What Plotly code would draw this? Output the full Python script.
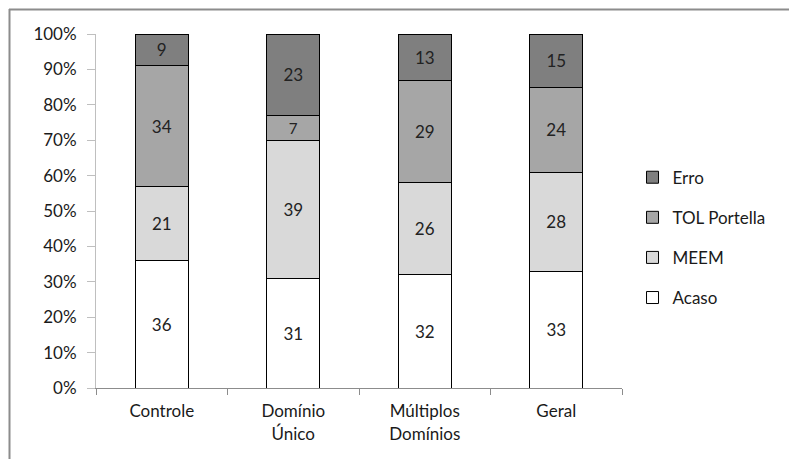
import plotly.graph_objects as go

categories = ["Controle", "Domínio<br>Único", "Múltiplos<br>Domínios", "Geral"]
series_names = ["Acaso", "MEEM", "TOL Portella", "Erro"]
acaso = [36, 31, 32, 33]
meem = [21, 39, 26, 28]
tol = [34, 7, 29, 24]
erro = [9, 23, 13, 15]
colors = ["#ffffff", "#d9d9d9", "#a6a6a6", "#7f7f7f"]
legend_ranks = [4, 3, 2, 1]

FONT = "Lato"
fig = go.Figure()
for name, vals, col, rk in zip(series_names, [acaso, meem, tol, erro], colors, legend_ranks):
    fig.add_trace(go.Bar(
        x=categories, y=vals, name=name, legendgroup=name, legendrank=rk,
        marker=dict(color=col, line=dict(color="#000000", width=1)),
        text=[str(v) for v in vals], textposition="inside",
        insidetextanchor="middle", textangle=0,
        textfont=dict(family=FONT, size=17, color="#222222"),
        width=0.4,
    ))

fig.update_layout(
    width=789, height=459,
    barmode="stack", barnorm="percent",
    paper_bgcolor="white", plot_bgcolor="white",
    margin=dict(l=96, r=167, t=34, b=71),
    font=dict(family=FONT, size=16, color="#1a1a1a"),
    legend=dict(
        x=1.02, y=0.645, xanchor="left", yanchor="top",
        traceorder="grouped", tracegroupgap=15,
        font=dict(family=FONT, size=17, color="#1a1a1a"),
        itemwidth=30,
    ),
    showlegend=True,
)
fig.update_yaxes(
    range=[0, 100], dtick=10, ticksuffix="%",
    showgrid=False, showline=True, linecolor="#bfbfbf", linewidth=1,
    ticks="outside", ticklen=8, tickcolor="#bfbfbf",
    tickfont=dict(family=FONT, size=17, color="#1a1a1a"),
    ticklabelstandoff=7, zeroline=False,
)
fig.update_xaxes(
    showline=True, linecolor="#8c8c8c", linewidth=1,
    ticks="outside", ticklen=6, tickcolor="#8c8c8c", tickson="boundaries",
    tickfont=dict(family=FONT, size=17, color="#1a1a1a"),
    ticklabelstandoff=8,
    range=[-0.5, 3.5],
)
# outer chart border (top and left edges visible)
fig.add_shape(type="line", xref="paper", yref="paper",
              x0=(9 - 96) / 526, x1=(789 - 96) / 526 + 0.01,
              y0=(388 - 9.5) / 354, y1=(388 - 9.5) / 354,
              line=dict(color="#8c8c8c", width=2))
fig.add_shape(type="line", xref="paper", yref="paper",
              x0=(9.5 - 96) / 526, x1=(9.5 - 96) / 526,
              y0=(388 - 9) / 354, y1=(388 - 470) / 354,
              line=dict(color="#8c8c8c", width=2))

fig.write_html("out.html")
